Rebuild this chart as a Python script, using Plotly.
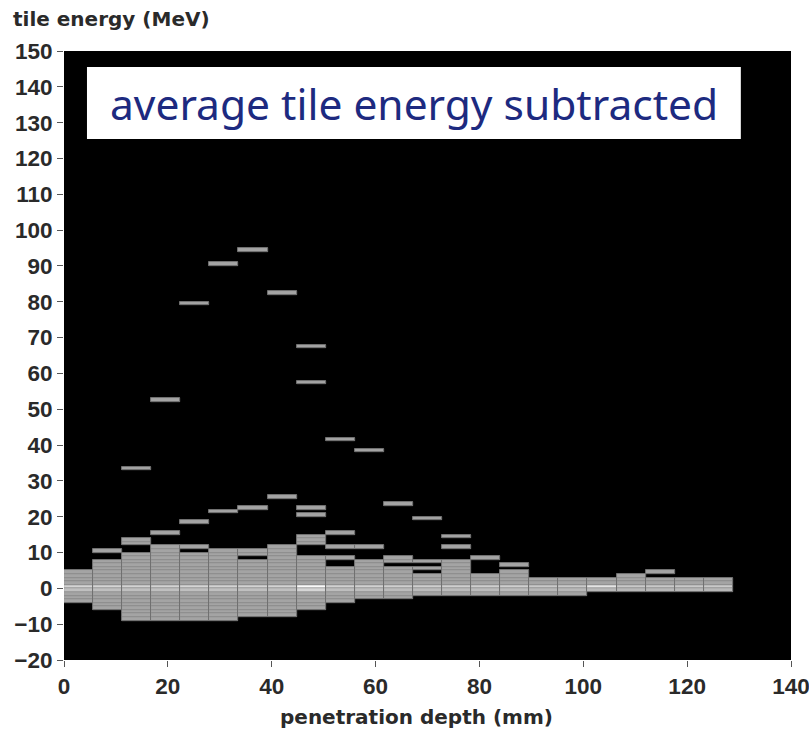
import math
import plotly.graph_objects as go

# Depth binning (mm)
BIN_WIDTH = 5.6
N_BINS = 23

# Filled energy cells for each depth bin, as (low, high) ranges in MeV
col_segments = [
    [(-4, 5)],
    [(-6, 8), (10, 11)],
    [(-9, 10), (12, 14), (33, 34)],
    [(-9, 12), (15, 16), (52, 53)],
    [(-9, 10), (11, 12), (18, 19), (79, 80)],
    [(-9, 11), (21, 22), (90, 91)],
    [(-8, 8), (9, 11), (22, 23), (94, 95)],
    [(-8, 12), (25, 26), (82, 83)],
    [(-6, 9), (12, 15), (20, 21), (22, 23), (57, 58), (67, 68)],
    [(-4, 6), (8, 9), (11, 12), (15, 16), (41, 42)],
    [(-3, 8), (11, 12), (38, 39)],
    [(-3, 6), (7, 9), (23, 24)],
    [(-2, 4), (5, 6), (7, 8), (19, 20)],
    [(-2, 8), (11, 12), (14, 15)],
    [(-2, 4), (8, 9)],
    [(-2, 5), (6, 7)],
    [(-2, 3)],
    [(-2, 3)],
    [(-1, 3)],
    [(-1, 4)],
    [(-1, 3), (4, 5)],
    [(-1, 3)],
    [(-1, 3)],
]

# Grey level of the [0,1] and [-1,0] MeV cells in every depth bin
zero_row_level = [212, 212, 210, 210, 212, 210, 210, 210, 250, 208, 208, 206,
                  206, 206, 206, 206, 200, 200, 228, 200, 200, 200, 200]
minus_row_level = [192, 192, 192, 192, 192, 192, 192, 192, 214, 190, 190, 188,
                   188, 188, 188, 188, 184, 184, 184, 184, 184, 184, 184]
BASE_LEVEL = 164

x_ticks = [0, 20, 40, 60, 80, 100, 120, 140]
y_ticks = list(range(-20, 151, 10))


def grey(v):
    return f"rgb({v},{v},{v})"


cell_x, cell_base, cell_h, cell_col = [], [], [], []
seg_x, seg_base, seg_h = [], [], []
for i, segs in enumerate(col_segments):
    xc = (i + 0.5) * BIN_WIDTH
    for lo, hi in segs:
        seg_x.append(xc)
        seg_base.append(lo)
        seg_h.append(hi - lo)
        e = math.floor(lo)
        while e < hi:
            a, b = max(e, lo), min(e + 1, hi)
            if e == 0:
                lvl = zero_row_level[i]
            elif e == -1:
                lvl = minus_row_level[i]
            else:
                lvl = BASE_LEVEL
            cell_x.append(xc)
            cell_base.append(a)
            cell_h.append(b - a)
            cell_col.append(grey(lvl))
            e += 1

fig = go.Figure()

# individual 1 MeV cells
fig.add_trace(go.Bar(
    x=cell_x, y=cell_h, base=cell_base, width=BIN_WIDTH,
    marker=dict(color=cell_col, line=dict(color="rgb(146,146,146)", width=0.5)),
    hoverinfo="skip", showlegend=False,
))
# outline of each contiguous block
fig.add_trace(go.Bar(
    x=seg_x, y=seg_h, base=seg_base, width=BIN_WIDTH,
    marker=dict(color="rgba(0,0,0,0)", line=dict(color="rgb(112,112,112)", width=1)),
    hoverinfo="skip", showlegend=False,
))

tick_font = dict(family="Liberation Sans, Arial, sans-serif", size=22.5, color="#2a2a2a",
                 weight="bold")
title_font = dict(family="DejaVu Sans, sans-serif", size=20, color="#2a2a2a",
                  weight="bold")

fig.update_layout(
    width=809, height=731,
    margin=dict(l=64, r=18, t=51, b=71),
    paper_bgcolor="white",
    plot_bgcolor="black",
    barmode="overlay",
    bargap=0,
    xaxis=dict(
        range=[0, 140], tickvals=x_ticks, ticks="outside", ticklen=6,
        tickcolor="#555", showgrid=False, zeroline=False, showline=False,
        tickfont=tick_font, automargin=False, ticklabeloverflow="allow",
    ),
    yaxis=dict(
        range=[-20, 150], tickvals=y_ticks, ticks="outside", ticklen=6,
        tickcolor="#555", showgrid=False, zeroline=False, showline=False,
        tickfont=tick_font, automargin=False, ticklabeloverflow="allow",
    ),
    shapes=[dict(
        type="rect", xref="paper", yref="paper",
        x0=0.0316, x1=0.931, y0=0.8555, y1=0.9737,
        fillcolor="white", line=dict(width=0), layer="above",
    )],
    annotations=[
        dict(text="tile energy (MeV)", xref="paper", yref="paper",
             x=-0.073, y=1.03, xanchor="left", yanchor="bottom",
             showarrow=False, font=title_font),
        dict(text="penetration depth (mm)", xref="paper", yref="paper",
             x=0.4842, y=-0.094, xanchor="center", yanchor="middle",
             showarrow=False, font=title_font),
        dict(text="average tile energy subtracted", xref="paper", yref="paper",
             x=0.4815, y=0.9146, xanchor="center", yanchor="middle",
             showarrow=False,
             font=dict(family="Noto Sans, sans-serif", size=42.5, color="#1d2a80")),
    ],
)

fig.write_html("out.html")
